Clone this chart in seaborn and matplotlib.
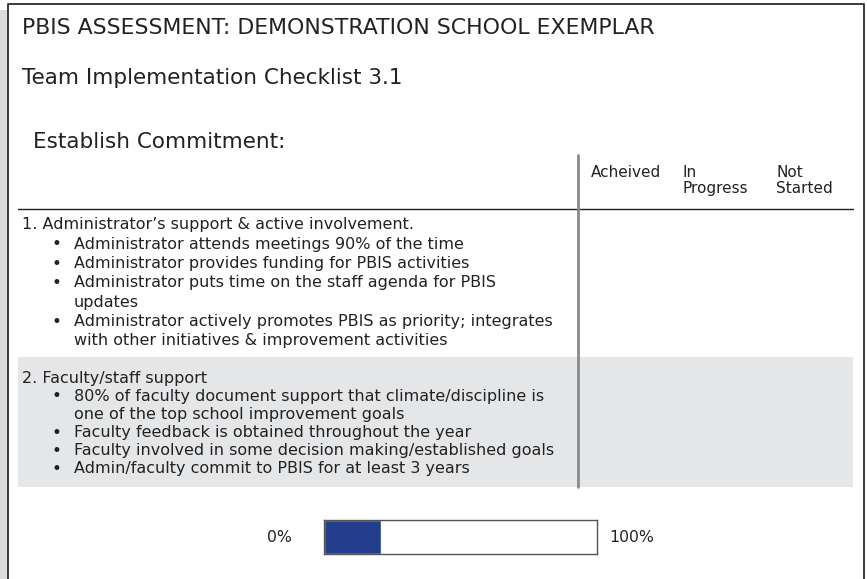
import matplotlib
matplotlib.use("Agg")
import matplotlib.pyplot as plt
import seaborn as sns

# ---------- Data ----------
title = "PBIS ASSESSMENT: DEMONSTRATION SCHOOL EXEMPLAR"
subtitle = "Team Implementation Checklist 3.1"
section = "Establish Commitment:"
status_cols = ["Acheived", "In\nProgress", "Not\nStarted"]

item1_head = "1. Administrator\u2019s support & active involvement."
item1_bullets = [
    "Administrator attends meetings 90% of the time",
    "Administrator provides funding for PBIS activities",
    "Administrator puts time on the staff agenda for PBIS\nupdates",
    "Administrator actively promotes PBIS as priority; integrates\nwith other initiatives & improvement activities",
]
item2_head = "2. Faculty/staff support"
item2_bullets = [
    "80% of faculty document support that climate/discipline is\none of the top school improvement goals",
    "Faculty feedback is obtained throughout the year",
    "Faculty involved in some decision making/established goals",
    "Admin/faculty commit to PBIS for at least 3 years",
]

progress_label = ["Establish Commitment"]
progress_pct = [21]
scale_labels = ["0%", "100%"]

# ---------- Figure ----------
sns.set_style("white")
plt.rcParams["font.family"] = ["DejaVu Sans"]

W, H = 867, 579
fig = plt.figure(figsize=(W / 100, H / 100), dpi=100)
ax = fig.add_axes([0, 0, 1, 1])
ax.set_xlim(0, W)
ax.set_ylim(H, 0)
ax.axis("off")

txt = "#222222"

# page edge + border
ax.add_patch(plt.Rectangle((0, 10), 8, H, color="#dcdcdc", lw=0, zorder=0))
ax.plot([8, 8, 864, 864], [H, 4, 4, H], color="#3a3a3a", lw=1.4, zorder=3)

ax.text(22, 28, title, fontsize=15.8, color=txt, va="center")
ax.text(22, 78, subtitle, fontsize=15.5, color=txt, va="center")
ax.text(33, 142, section, fontsize=15.5, color=txt, va="center")

# header
for x, lab in zip([591, 683, 776], status_cols):
    ax.text(x, 165, lab, fontsize=11, color=txt, va="top", linespacing=1.1)
ax.plot([18, 853], [209, 209], color="#222222", lw=1)

# row 2 gray band
ax.add_patch(plt.Rectangle((18, 357), 835, 130, color="#e5e6e8", lw=0, zorder=0))
ax.plot([578, 578], [155, 487], color="#8a8a8a", lw=2, zorder=2)


def draw_item(y0, head, bullets, line_h):
    ax.text(22, y0, head, fontsize=11.5, color=txt, va="center")
    y = y0 + line_h
    for b in bullets:
        ax.text(56, y, "\u2022", fontsize=12, color=txt, va="center", ha="center")
        for part in b.split("\n"):
            ax.text(74, y, part, fontsize=11.5, color=txt, va="center")
            y += line_h


draw_item(225, item1_head, item1_bullets, 19.3)
draw_item(378, item2_head, item2_bullets, 18.2)

# ---------- Progress bar ----------
bx0, bx1, by0, by1 = 324, 597, 520, 554
bax = fig.add_axes([bx0 / W, 1 - by1 / H, (bx1 - bx0) / W, (by1 - by0) / H])
sns.barplot(x=progress_pct, y=progress_label, orient="h", color="#243e8e",
            saturation=1, width=1, ax=bax)
bax.set_xlim(0, 100)
bax.set_ylim(0.5, -0.5)
bax.set_xticks([])
bax.set_yticks([])
bax.set_xlabel("")
bax.set_ylabel("")
for s in bax.spines.values():
    s.set_visible(True)
    s.set_color("#555555")
    s.set_linewidth(1)

ax.text(279, 538, scale_labels[0], fontsize=11.3, color=txt, ha="center", va="center")
ax.text(609, 538, scale_labels[1], fontsize=11.3, color=txt, ha="left", va="center")

fig.savefig("out.png", dpi=100)
